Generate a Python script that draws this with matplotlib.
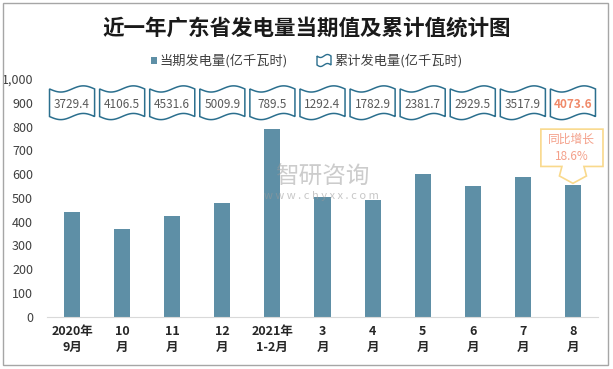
import numpy as np
import matplotlib.pyplot as plt
from matplotlib.path import Path
from matplotlib.patches import PathPatch, Rectangle, Polygon

plt.rcParams['font.family'] = ['Noto Sans CJK SC', 'DejaVu Sans']
plt.rcParams['axes.unicode_minus'] = False

categories = ["2020年\n9月", "10\n月", "11\n月", "12\n月", "2021年\n1-2月",
              "3\n月", "4\n月", "5\n月", "6\n月", "7\n月", "8\n月"]
monthly = [442, 370, 425.1, 478.3, 789.5, 502.9, 490.5, 598.8, 547.8, 588.4, 555.7]
cumulative = [3729.4, 4106.5, 4531.6, 5009.9, 789.5, 1292.4, 1782.9, 2381.7,
              2929.5, 3517.9, 4073.6]
yticks = [0, 100, 200, 300, 400, 500, 600, 700, 800, 900, 1000]
ytick_labels = ["0", "100", "200", "300", "400", "500", "600", "700", "800", "900", "1,000"]
growth_text = "同比增长\n18.6%"

bar_color = "#5E8FA6"
flag_color = "#2B6F8E"
hi_color = "#F08A6A"

fig = plt.figure(figsize=(6.13, 3.69), dpi=100)
ax = fig.add_axes([0.0767, 0.1417, 0.8988, 0.6443])

x = np.arange(len(categories))
ax.bar(x, monthly, width=0.32, color=bar_color, zorder=2)
ax.set_xlim(-0.5, len(categories) - 0.5)
ax.set_ylim(0, 1000)
ax.set_yticks(yticks)
ax.set_yticklabels(ytick_labels, fontsize=9, color="#404040")
ax.set_xticks(x)
ax.set_xticklabels(categories, fontsize=9, fontweight="bold", color="#262626",
                   linespacing=1.3)
ax.tick_params(axis="both", length=0)
ax.tick_params(axis="y", pad=10)
ax.tick_params(axis="x", pad=6)
for s in ["left", "right", "top"]:
    ax.spines[s].set_visible(False)
ax.spines["bottom"].set_color("#D9D9D9")


def wave_path(cx, cy, w, h, amp):
    t = np.linspace(0, 1, 40)
    xs = cx - w / 2 + w * t
    top = cy + h / 2 - amp * np.sin(2 * np.pi * t)
    bot = cy - h / 2 - amp * np.sin(2 * np.pi * t)
    verts = list(zip(xs, top)) + list(zip(xs[::-1], bot[::-1])) + [(xs[0], top[0])]
    codes = [Path.MOVETO] + [Path.LINETO] * (len(verts) - 2) + [Path.CLOSEPOLY]
    return Path(verts, codes)


# cumulative value flags
for i, v in enumerate(cumulative):
    ax.add_patch(PathPatch(wave_path(i, 900, 0.9, 116, 13), facecolor="white",
                           edgecolor=flag_color, lw=1.1, zorder=3, clip_on=False))
    last = i == len(cumulative) - 1
    ax.text(i, 893, f"{v}", ha="center", va="center", fontsize=8.5,
            color=hi_color if last else "#595959",
            fontweight="bold" if last else "normal", zorder=4)

# callout over last bar
i = len(monthly) - 1
call = [(i - 0.64, 789), (i + 0.6, 789), (i + 0.6, 632), (i + 0.22, 632),
        (i + 0.27, 592), (i, 561), (i - 0.27, 592), (i - 0.22, 632), (i - 0.64, 632)]
ax.add_patch(Polygon(call, closed=True, facecolor="white", edgecolor="#F9D98C",
                     lw=1.2, zorder=3, clip_on=False))
ax.text(i - 0.02, 710, growth_text, ha="center", va="center", fontsize=8.5,
        color="#F4A08A", linespacing=1.5, zorder=4)

# title
fig.text(0.5, 0.925, "近一年广东省发电量当期值及累计值统计图", ha="center", va="center",
         fontsize=15.5, fontweight="bold", color="#1a1a1a")

# legend
fig.patches.append(Rectangle((151 / 613, 1 - 64 / 369), 6 / 613, 7 / 369,
                             transform=fig.transFigure, facecolor=bar_color,
                             edgecolor="none"))
fig.text(159 / 613, 1 - 60.5 / 369, "当期发电量(亿千瓦时)", ha="left", va="center",
         fontsize=9.5, color="#404040")
icon = wave_path(324 / 613, 1 - 60.5 / 369, 14 / 613, 9 / 369, 1.5 / 369)
fig.patches.append(PathPatch(icon, transform=fig.transFigure, facecolor="white",
                             edgecolor=flag_color, lw=1.0))
fig.text(334 / 613, 1 - 60.5 / 369, "累计发电量(亿千瓦时)", ha="left", va="center",
         fontsize=9.5, color="#404040")

# watermark
fig.text(0.525, 0.52, "智研咨询", ha="center", va="center", fontsize=17,
         color="#9a9a9a", alpha=0.5, fontweight="light")
fig.text(0.525, 0.47, "w w w . c h y x x . c o m", ha="center", va="center",
         fontsize=8, color="#9a9a9a", alpha=0.55)

# outer frame
fig.patches.append(Rectangle((3 / 613, 4 / 369), 605 / 613, 362 / 369,
                             transform=fig.transFigure, facecolor="none",
                             edgecolor="#A6A6A6", lw=1.0))

fig.savefig("out.png", dpi=100)
